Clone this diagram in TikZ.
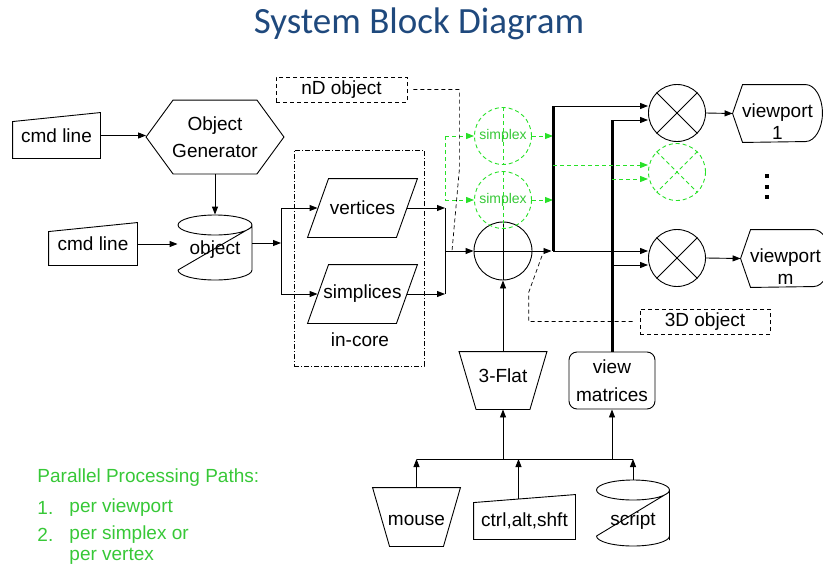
\documentclass[tikz,border=0pt]{standalone}
\usepackage{fontspec}
\setmainfont{Liberation Sans}
\newfontfamily\titlefont{Carlito}
\usetikzlibrary{arrows.meta}

\definecolor{titleblue}{RGB}{31,73,125}
\definecolor{simgreen}{RGB}{40,225,40}
\definecolor{notegreen}{RGB}{55,200,55}

\begin{document}
\begin{tikzpicture}[x=1pt, y=-1pt, line width=0.9pt, >={Triangle[length=8pt,width=6pt]},
    shp/.style={inner sep=0pt, align=center, font=\fontsize{19}{22}\selectfont},
    note/.style={shp, anchor=west, text=notegreen, font=\fontsize{19}{21}\selectfont},
    ring/.style={circle, draw, minimum size=57pt, inner sep=0pt},
    bdash/.style={dash pattern=on 4pt off 3pt},
    gdash/.style={simgreen, dash pattern=on 4pt off 3pt},
    bus/.style={line width=3pt}]

    \useasboundingbox (0,0) rectangle (823,571);

    % title
    \node[anchor=base, font=\titlefont\fontsize{37}{40}\selectfont, text=titleblue] (title) at (419,33) {System Block Diagram};

    % sources and object generation
    \node[shp, minimum width=87pt, minimum height=45pt] (cmd1) at (56.5,135.5) {cmd line};
    \draw (cmd1.south west) -- (cmd1.south east) -- (cmd1.north east) -- ([yshift=-9pt]cmd1.north west) -- cycle;

    \node[shp, minimum width=137pt, minimum height=73pt, font=\fontsize{19}{27}\selectfont] (gen) at (215,137) {Object\\Generator};
    \draw (gen.west) -- ([xshift=27pt]gen.north west) -- ([xshift=-27pt]gen.north east) -- (gen.east)
        -- ([xshift=-27pt]gen.south east) -- ([xshift=27pt]gen.south west) -- cycle;

    \node[shp, minimum width=88pt, minimum height=42pt] (cmd2) at (93,244) {cmd line};
    \draw (cmd2.south west) -- (cmd2.south east) -- (cmd2.north east) -- ([yshift=-9pt]cmd2.north west) -- cycle;

    \node[shp, minimum width=74pt, minimum height=56pt, label={[shp,yshift=-7pt]center:object}] (obj) at (215,243) {};
    \draw[shift={(obj.center)}] (0,-18) ellipse [x radius=37pt, y radius=10pt]
        (37,-18) -- (37,27)
        (-37,27) arc[start angle=180, end angle=360, x radius=37pt, y radius=10pt]
        (-37,27) -- (37,-16);

    \draw[->] (cmd1.east) -- (cmd1.east -| gen.west);
    \draw[->] (gen.south) -- (obj.north);
    \draw[->] (cmd2.east) -- (cmd2.east -| obj.west);

    % in-core data
    \node[draw, dash pattern=on 5pt off 2pt on 1pt off 2pt, line width=0.7pt, minimum width=130pt, minimum height=216pt] (core) at (359,258) {};
    \node[shp] (corelbl) at (360,340) {in-core};

    \node[shp, minimum width=109pt, minimum height=58pt] (vert) at (362.5,208) {vertices};
    \draw (vert.south west) -- ([xshift=-21pt]vert.south east) -- (vert.north east) -- ([xshift=21pt]vert.north west) -- cycle;
    \node[shp, minimum width=109pt, minimum height=58pt] (simp) at (362.5,294) {simplices};
    \draw (simp.south west) -- ([xshift=-21pt]simp.south east) -- (simp.north east) -- ([xshift=21pt]simp.north west) -- cycle;

    \coordinate (fork) at (281,243);
    \draw[->] (obj.east) -- (fork);
    \draw (fork |- vert) -- (fork |- simp);
    \draw[->] (fork |- vert) -- ([xshift=10pt]vert.west);
    \draw[->] (fork |- simp) -- ([xshift=10pt]simp.west);

    % sum and simplex paths
    \node[ring, minimum size=58pt] (sum) at (503,251) {};
    \draw (sum.north) -- (sum.south) (sum.west) -- (sum.east);

    \coordinate (join) at (445,251);
    \draw (join |- vert) -- (join |- simp);
    \draw[->] ([xshift=-10pt]vert.east) -- (join |- vert);
    \draw[->] ([xshift=-10pt]simp.east) -- (join |- simp);
    \draw[->] (join) -- (sum.west);

    \node[ring, gdash, text=notegreen, font=\fontsize{14}{16}\selectfont] (sx1) at (503,136) {simplex};
    \node[ring, gdash, text=notegreen, font=\fontsize{14}{16}\selectfont] (sx2) at (503,200) {simplex};
    \draw[gdash] (sx1.north) -- (sx1.south) (sx2.north) -- (sx2.south);

    \coordinate (bus1) at (553,106);
    \coordinate (bus2) at (612,120);

    \draw[gdash] (join |- sx1) -- (join |- sx2);
    \draw[gdash, ->] (join |- sx1) -- (sx1.west);
    \draw[gdash, ->] (join |- sx2) -- (sx2.west);
    \draw[gdash, ->] (sx1.east) -- (bus1 |- sx1);
    \draw[gdash, ->] (sx2.east) -- (bus1 |- sx2);

    % viewport products
    \node[ring] (m1) at (677,113) {};
    \node[ring, gdash] (m2) at (677,172) {};
    \node[ring] (m3) at (677,258) {};
    \draw (m1.north west) -- (m1.south east) (m1.north east) -- (m1.south west);
    \draw[gdash] (m2.north west) -- (m2.south east) (m2.north east) -- (m2.south west);
    \draw (m3.north west) -- (m3.south east) (m3.north east) -- (m3.south west);

    \node[shp, minimum width=86pt, minimum height=57pt, draw, rounded corners=8pt, font=\fontsize{19}{28}\selectfont] (vm) at (612,380.5) {view\\matrices};

    \draw[bus] (bus1) -- (bus1 |- sum);
    \draw[bus] (bus2) -- (vm.north);
    \draw[->, shorten >=1.5pt] (sum.east) -- (bus1 |- sum);
    \draw[->] (bus1) -- ([yshift=7pt]m1.west);
    \draw[gdash, ->] ([yshift=7pt]m2.west -| bus1) -- ([yshift=7pt]m2.west);
    \draw[->] ([yshift=7pt]m3.west -| bus1) -- ([yshift=7pt]m3.west);
    \draw[->] (bus2) -- ([yshift=-7pt]m1.west);
    \draw[gdash, ->] ([yshift=-7pt]m2.west -| bus2) -- ([yshift=-7pt]m2.west);
    \draw[->] ([yshift=-7pt]m3.west -| bus2) -- ([yshift=-7pt]m3.west);

    \node[shp, minimum width=89pt, minimum height=57pt, label={[shp,yshift=-8pt]center:{viewport\\1}}] (vp1) at (777.5,113.5) {};
    \draw (vp1.west) -- ([xshift=10pt]vp1.north west) -- ([xshift=-17pt]vp1.north east)
        arc[start angle=90, end angle=-90, x radius=17pt, y radius=28.5pt] -- ([xshift=10pt]vp1.south west) -- cycle;
    \node[shp, minimum width=89pt, minimum height=57pt, label={[shp,yshift=-8pt]center:{viewport\\m}}] (vpm) at (785.5,258.5) {};
    \draw (vpm.west) -- ([xshift=10pt]vpm.north west) -- ([xshift=-17pt]vpm.north east)
        arc[start angle=90, end angle=-90, x radius=17pt, y radius=28.5pt] -- ([xshift=10pt]vpm.south west) -- cycle;
    \draw[->] (m1.east) -- (vp1.west);
    \draw[->] (m3.east) -- (vpm.west);
    \foreach \y in {174,185,195}
        \fill (765,\y) rectangle ++(4,4);

    % callouts
    \node[shp, draw, bdash, line width=0.7pt, minimum width=131pt, minimum height=25pt] (nd) at (341.5,89.5) {nD object};
    \coordinate (ndtip) at (452,251);
    \draw[bdash, line width=0.7pt] ([xshift=6pt]nd.east) -- ++(46,0) -- ++(0,80) -- (ndtip);
    \node[shp, draw, bdash, line width=0.7pt, minimum width=130pt, minimum height=25pt] (td) at (705,321.5) {3D object};
    \coordinate (tdtip) at (543,253);
    \draw[bdash, line width=0.7pt] ([xshift=-7pt]td.west) -- ++(-104,0) -- ++(0,-29) -- (tdtip);

    % user input
    \node[shp, minimum width=87pt, minimum height=57pt, label={[shp,yshift=5pt]center:3-Flat}] (flat) at (503,380.5) {};
    \draw (flat.north west) -- (flat.north east) -- ([xshift=-17pt]flat.south east) -- ([xshift=17pt]flat.south west) -- cycle;
    \draw[->] (flat.north) -- (sum.south);

    \node[shp, minimum width=87pt, minimum height=58pt, label={[shp,yshift=-3pt]center:mouse}] (mouse) at (416.5,517) {};
    \draw (mouse.north west) -- (mouse.north east) -- ([xshift=-17pt]mouse.south east) -- ([xshift=17pt]mouse.south west) -- cycle;
    \node[shp, minimum width=101pt, minimum height=44pt, label={[shp,yshift=-4pt]center:{ctrl,alt,shft}}] (ctrl) at (524.5,517) {};
    \draw (ctrl.south west) -- (ctrl.south east) -- (ctrl.north east) -- ([yshift=-8pt]ctrl.north west) -- cycle;
    \node[shp, minimum width=73pt, minimum height=56pt, label={[shp,yshift=-13pt]center:script}] (script) at (633,508) {};
    \draw[shift={(script.center)}] (0,-18) ellipse [x radius=36.5pt, y radius=10pt]
        (36.5,-18) -- (36.5,32)
        (-36.5,28) arc[start angle=180, end angle=360, x radius=36.5pt, y radius=10pt]
        (-36.5,28) -- (36.5,-16);

    \coordinate (inbus) at (503,459);
    \draw (mouse.north |- inbus) -- (script.north |- inbus);
    \draw[->] (flat.south |- inbus) -- (flat.south);
    \draw[->] (vm.south |- inbus) -- (vm.south);
    \draw[->] (mouse.north) -- (mouse.north |- inbus);
    \draw[->] ([xshift=-6pt,yshift=-4pt]ctrl.north) -- ([xshift=-6pt]ctrl.north |- inbus);
    \draw[->] (script.north) -- (script.north |- inbus);

    % notes
    \node[note] (notes) at (37,478) {Parallel Processing Paths:};
    \node[note] (num1) at (37,508) {1.};
    \node[note] (path1) at (69,508) {per viewport};
    \node[note] (num2) at (37,535) {2.};
    \node[note] (path2) at (69,535) {per simplex or};
    \node[note] (path3) at (69,556) {per vertex};
\end{tikzpicture}
\end{document}
